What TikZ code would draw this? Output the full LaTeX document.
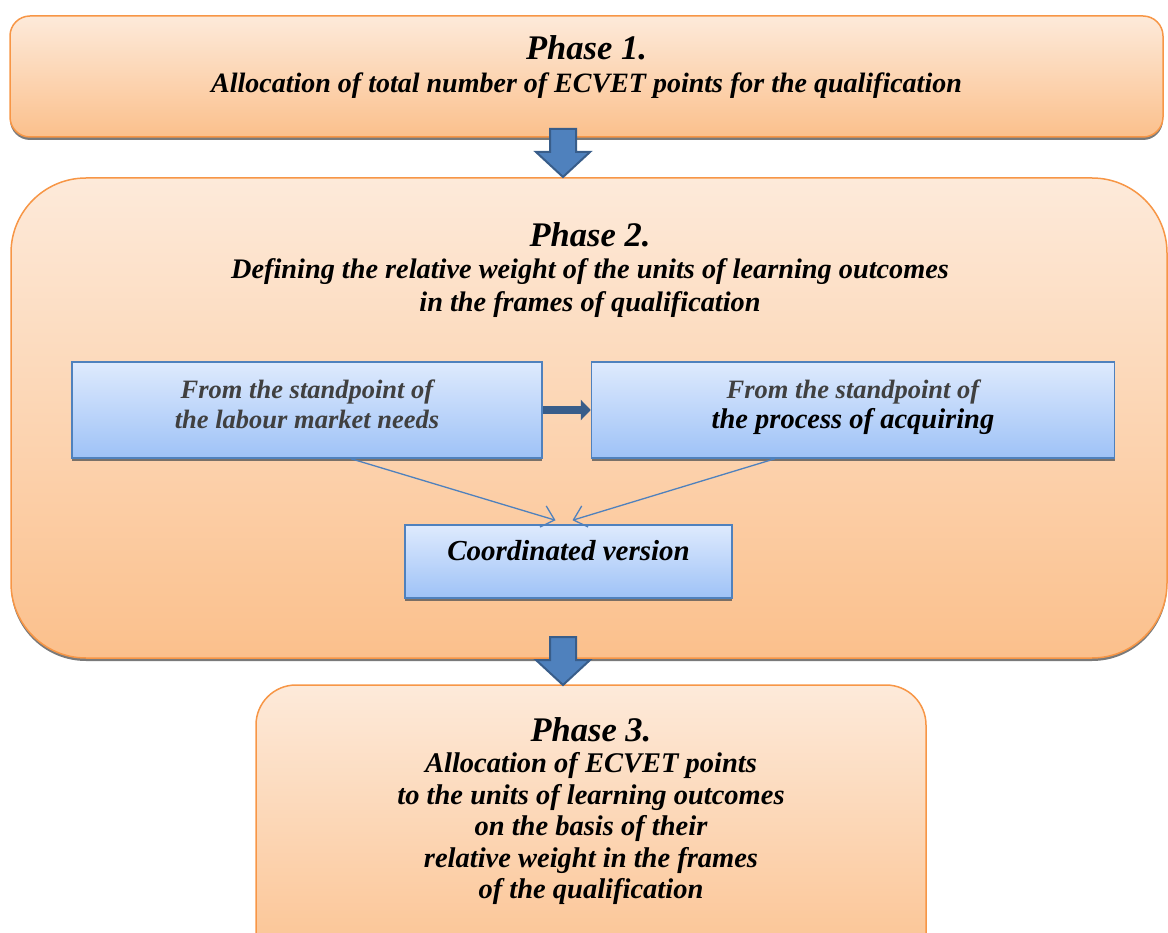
\documentclass[tikz,border=0pt]{standalone}
\usepackage{fontspec}
\setmainfont{Liberation Serif}
\usetikzlibrary{positioning,arrows.meta,shadows}

\definecolor{phasetop}{RGB}{253,234,218}
\definecolor{phasebot}{RGB}{251,192,140}
\definecolor{phaseline}{RGB}{247,150,70}
\definecolor{viewtop}{RGB}{222,234,253}
\definecolor{viewbot}{RGB}{158,194,247}
\definecolor{viewline}{RGB}{79,129,189}
\definecolor{darkblue}{RGB}{56,93,138}
\definecolor{greytext}{RGB}{64,64,64}

\newcommand\phasetitlefont{\fontsize{34.5}{32}\selectfont}

\tikzset{
  boxshadow/.style={drop shadow={shadow xshift=0pt,shadow yshift=-3pt,opacity=.8,fill=black!65}},
  phasebox/.style={draw=phaseline,line width=1.5pt,top color=phasetop,bottom color=phasebot,boxshadow},
  viewbox/.style={draw=viewline,line width=1.5pt,top color=viewtop,bottom color=viewbot,boxshadow,align=center},
  phasetext/.style={align=center,inner sep=0pt},
  thinarrow/.style={draw=viewline,line width=1.3pt,-{Straight Barb[length=12pt,width=22pt]}},
  thickarrow/.style={draw=darkblue,line width=7pt,-{Triangle[length=10pt,width=20pt]}},
  blockdown/.pic={
    \draw[darkblue,line width=2pt,fill=viewline]
      (-13,24) -- (13,24) -- (13,1) -- (27,1) -- (0,-24) -- (-27,1) -- (-13,1) -- cycle;
  }
}

\begin{document}
\begin{tikzpicture}[x=1pt,y=1pt,node distance=48pt]
  \useasboundingbox (0,0) rectangle (1168,-933);
  \clip (0,0) rectangle (1168,-933);

  % phases
  \node[phasebox,rounded corners=20pt,minimum width=1153pt,minimum height=121pt] (ph1) at (586.5,-76.5) {};
  \node[phasetext,font=\fontsize{28}{33}\selectfont\bfseries\itshape] (ph1txt) at (586.5,-67)
    {{\phasetitlefont Phase 1.}\\Allocation of total number of ECVET points for the qualification};

  \node[phasebox,rounded corners=75pt,minimum width=1156pt,minimum height=480pt] (ph2) at (589,-418) {};
  \node[phasetext,font=\fontsize{28.3}{32.5}\selectfont\bfseries\itshape] (ph2txt) at (590,-270)
    {{\phasetitlefont Phase 2.}\\Defining the relative weight of the units of learning outcomes\\in the frames of qualification};

  \node[phasebox,rounded corners=40pt,minimum width=670pt,minimum height=300pt] (ph3) at (591,-835) {};
  \node[phasetext,font=\fontsize{28.5}{31.5}\selectfont\bfseries\itshape] (ph3txt) at (591,-811)
    {{\phasetitlefont Phase 3.}\\Allocation of ECVET points\\to the units of learning outcomes\\on the basis of their\\relative weight in the frames\\of the qualification};

  % points of view
  \node[viewbox,minimum width=470pt,minimum height=96pt,text depth=12pt,
        font=\fontsize{26.5}{30}\selectfont\bfseries\itshape,text=greytext] (lab) at (307,-410)
        {From the standpoint of\\the labour market needs};
  \node[viewbox,minimum width=523pt,minimum height=96pt,text depth=12pt,
        font=\fontsize{26.5}{30}\selectfont\bfseries\itshape,text=greytext,right=of lab] (acq)
        {From the standpoint of\\{\fontsize{28.5}{30}\selectfont\color{black}the process of acquiring}};
  \node[viewbox,minimum width=327pt,minimum height=73pt,text depth=22pt,
        font=\fontsize{29}{30}\selectfont\bfseries\itshape] (crd) at (568.5,-561.5) {Coordinated version};

  \draw[thickarrow] (lab.east) -- (acq.west);
  \draw[thinarrow] ([xshift=44pt]lab.south) -- ([xshift=-13pt,yshift=4pt]crd.north);
  \draw[thinarrow] ([xshift=-78pt]acq.south) -- ([xshift=4pt,yshift=4pt]crd.north);

  \pic (arr1) at (563,-153) {blockdown};
  \pic (arr2) at (563,-661) {blockdown};
\end{tikzpicture}
\end{document}
